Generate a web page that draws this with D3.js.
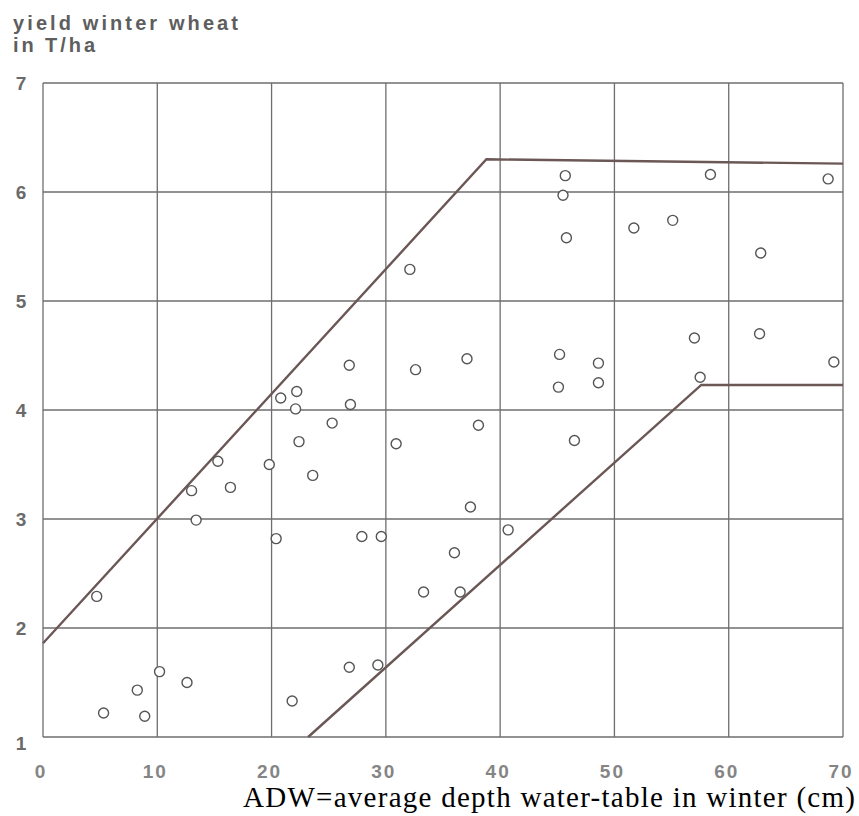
<!DOCTYPE html>
<html>
<head>
<meta charset="utf-8">
<script src="https://cdn.jsdelivr.net/npm/d3@7"></script>
<style>
  body { margin: 0; background: #fff; }
  svg { display: block; }
</style>
</head>
<body>
<svg id="chart"></svg>
<script>
/* data */
var depthADW = [4.7, 5.3, 8.25, 8.9, 10.2, 12.6, 13.0, 13.4, 15.3, 16.4,
  19.8, 20.4, 20.8, 22.2, 22.1, 22.4, 21.8, 23.6, 25.3, 26.8,
  26.9, 26.8, 27.9, 29.6, 29.3, 30.9, 32.1, 32.6, 33.3, 36.0,
  36.5, 37.1, 37.4, 38.1, 40.7, 45.1, 45.2, 45.5, 45.7, 45.8,
  46.5, 48.6, 48.6, 51.7, 55.1, 57.0, 57.5, 58.4, 62.7, 62.8,
  68.7, 69.2];
var yieldWheat = [2.29, 1.22, 1.43, 1.19, 1.60, 1.50, 3.26, 2.99, 3.53, 3.29,
  3.50, 2.82, 4.11, 4.17, 4.01, 3.71, 1.33, 3.40, 3.88, 4.41,
  4.05, 1.64, 2.84, 2.84, 1.66, 3.69, 5.29, 4.37, 2.33, 2.69,
  2.33, 4.47, 3.11, 3.86, 2.90, 4.21, 4.51, 5.97, 6.15, 5.58,
  3.72, 4.43, 4.25, 5.67, 5.74, 4.66, 4.30, 6.16, 4.70, 5.44,
  6.12, 4.44];

/* envelope lines */
var upperX = [0, 38.8, 70];
var upperY = [1.86, 6.30, 6.26];
var lowerX = [23.2, 57.6, 70];
var lowerY = [1.0, 4.23, 4.23];

var xTicks = [0, 10, 20, 30, 40, 50, 60, 70];
var yTicks = [1, 2, 3, 4, 5, 6, 7];

var width = 859;
var height = 816;

var svg = d3.select('#chart')
    .attr('width', width)
    .attr('height', height);

var x = d3.scaleLinear().domain([0, 70]).range([43, 843]);
var y = d3.scaleLinear().domain([1, 7]).range([737, 83]);

/* grid */
svg.selectAll('line.vgrid')
    .data(xTicks)
    .enter()
    .append('line')
    .attr('class', 'vgrid')
    .attr('x1', function(d){ return x(d); })
    .attr('x2', function(d){ return x(d); })
    .attr('y1', y(1))
    .attr('y2', y(7))
    .attr('stroke', '#6e6e6e')
    .attr('stroke-width', 1.3);

svg.selectAll('line.hgrid')
    .data(yTicks)
    .enter()
    .append('line')
    .attr('class', 'hgrid')
    .attr('x1', x(0))
    .attr('x2', x(70))
    .attr('y1', function(d){ return y(d); })
    .attr('y2', function(d){ return y(d); })
    .attr('stroke', '#6e6e6e')
    .attr('stroke-width', 1.3);

/* tick labels */
svg.selectAll('text.xlab')
    .data(xTicks)
    .enter()
    .append('text')
    .attr('class', 'xlab')
    .attr('x', function(d){ return x(d) - 2; })
    .attr('y', 778)
    .attr('text-anchor', 'middle')
    .attr('font-family', 'Liberation Sans, Arial, sans-serif')
    .attr('font-weight', 'bold')
    .attr('font-size', 19)
    .attr('letter-spacing', 2)
    .attr('fill', '#858585')
    .text(function(d){ return d; });

svg.selectAll('text.ylab')
    .data(yTicks)
    .enter()
    .append('text')
    .attr('class', 'ylab')
    .attr('x', 21)
    .attr('y', function(d){ return y(d) + (d === 1 ? 13 : 7); })
    .attr('text-anchor', 'middle')
    .attr('font-family', 'Liberation Sans, Arial, sans-serif')
    .attr('font-weight', 'bold')
    .attr('font-size', 19)
    .attr('fill', '#6a6a6a')
    .text(function(d){ return d; });

/* axis titles */
svg.append('text')
    .attr('x', 13)
    .attr('y', 30)
    .attr('font-family', 'Liberation Sans, Arial, sans-serif')
    .attr('font-weight', 'bold')
    .attr('font-size', 20)
    .attr('textLength', 225)
    .attr('lengthAdjust', 'spacing')
    .attr('fill', '#5e5e5e')
    .text('yield winter wheat');

svg.append('text')
    .attr('x', 13)
    .attr('y', 52)
    .attr('font-family', 'Liberation Sans, Arial, sans-serif')
    .attr('font-weight', 'bold')
    .attr('font-size', 20)
    .attr('textLength', 82)
    .attr('lengthAdjust', 'spacing')
    .attr('fill', '#5e5e5e')
    .text('in T/ha');

svg.append('text')
    .attr('x', 243)
    .attr('y', 807)
    .attr('font-family', 'Liberation Serif, Times New Roman, serif')
    .attr('font-size', 29)
    .attr('textLength', 612)
    .attr('lengthAdjust', 'spacing')
    .attr('fill', '#000')
    .text('ADW=average depth water-table in winter (cm)');

/* envelope lines */
var line = d3.line()
    .x(function(d){ return x(d[0]); })
    .y(function(d){ return y(d[1]); });

svg.append('path')
    .datum(d3.zip(upperX, upperY))
    .attr('d', line)
    .attr('fill', 'none')
    .attr('stroke', '#6b5856')
    .attr('stroke-width', 2.4);

svg.append('path')
    .datum(d3.zip(lowerX, lowerY))
    .attr('d', line)
    .attr('fill', 'none')
    .attr('stroke', '#6b5856')
    .attr('stroke-width', 2.4);

/* observations */
svg.selectAll('circle')
    .data(d3.zip(depthADW, yieldWheat))
    .enter()
    .append('circle')
    .attr('cx', function(d){ return x(d[0]); })
    .attr('cy', function(d){ return y(d[1]); })
    .attr('r', 5)
    .attr('fill', '#fff')
    .attr('stroke', '#555')
    .attr('stroke-width', 1.4);
</script>
</body>
</html>
